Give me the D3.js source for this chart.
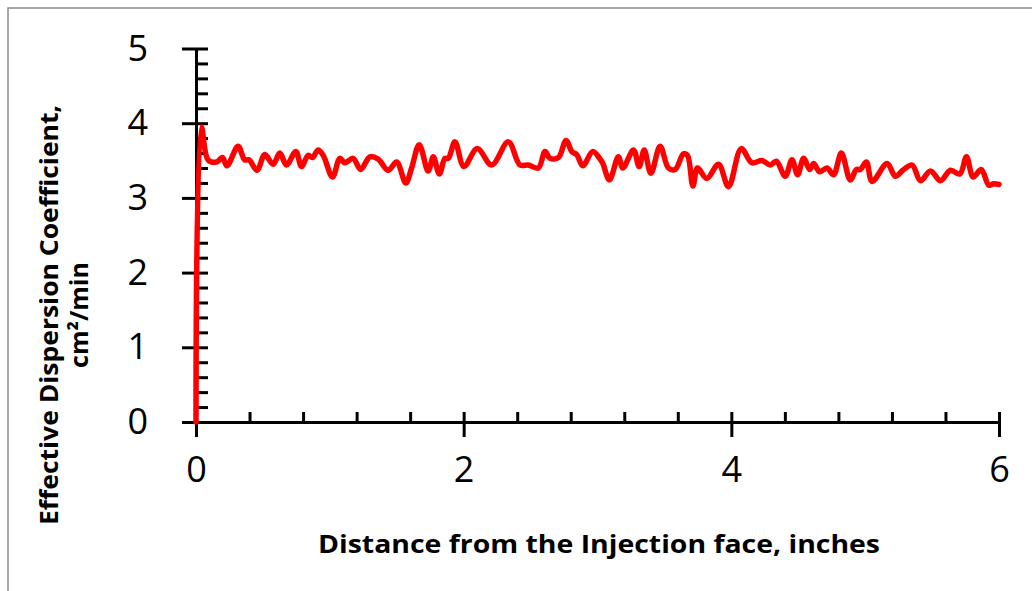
<!DOCTYPE html>
<html>
<head>
<meta charset="utf-8">
<script src="https://cdn.jsdelivr.net/npm/d3@7"></script>
<style>
  html, body { margin: 0; padding: 0; background: #fff; }
  svg { display: block; font-family: "Open Sans", "Noto Sans", sans-serif; }
  .axis path, .axis line { stroke: #000; stroke-width: 3; }
  .axis text { fill: #000; font-size: 36px; }
</style>
</head>
<body>
<svg id="chart" width="1032" height="591"></svg>
<script>
// distance from injection face (inches) / effective dispersion coefficient (cm²/min)
const distance = [0, 0.040, 0.090, 0.153, 0.197, 0.232, 0.314, 0.364, 0.396, 0.456, 0.514, 0.576, 0.626, 0.676, 0.746, 0.788,
  0.838, 0.871, 0.912, 0.950, 1.020, 1.075, 1.112, 1.174, 1.230, 1.299, 1.361, 1.436, 1.499, 1.568, 1.611, 1.668,
  1.735, 1.773, 1.818, 1.860, 1.885, 1.935, 2.002, 2.102, 2.209, 2.334, 2.421, 2.483, 2.558, 2.608, 2.645, 2.708,
  2.765, 2.808, 2.845, 2.890, 2.965, 3.019, 3.040, 3.089, 3.156, 3.189, 3.269, 3.311, 3.349, 3.399, 3.468, 3.530,
  3.580, 3.642, 3.672, 3.713, 3.747, 3.817, 3.904, 3.979, 4.074, 4.154, 4.229, 4.291, 4.336, 4.403, 4.453, 4.495,
  4.540, 4.585, 4.615, 4.660, 4.715, 4.764, 4.822, 4.889, 4.934, 4.964, 5.009, 5.052, 5.164, 5.226, 5.288, 5.351,
  5.413, 5.488, 5.563, 5.637, 5.707, 5.757, 5.807, 5.867, 5.924, 5.960, 6.000];
const dispersion = [0, 3.95, 3.51, 3.48, 3.54, 3.43, 3.69, 3.51, 3.51, 3.37, 3.58, 3.45, 3.60, 3.44, 3.62, 3.42,
  3.57, 3.54, 3.64, 3.57, 3.28, 3.53, 3.47, 3.53, 3.38, 3.55, 3.52, 3.37, 3.48, 3.20, 3.40, 3.71,
  3.36, 3.55, 3.32, 3.53, 3.53, 3.75, 3.42, 3.66, 3.44, 3.75, 3.44, 3.44, 3.40, 3.62, 3.53, 3.54,
  3.77, 3.62, 3.58, 3.43, 3.62, 3.52, 3.46, 3.24, 3.55, 3.40, 3.64, 3.42, 3.64, 3.33, 3.69, 3.40,
  3.38, 3.59, 3.57, 3.16, 3.40, 3.26, 3.45, 3.15, 3.66, 3.47, 3.50, 3.44, 3.49, 3.29, 3.51, 3.31,
  3.53, 3.38, 3.46, 3.35, 3.40, 3.31, 3.60, 3.24, 3.38, 3.38, 3.48, 3.22, 3.46, 3.29, 3.38, 3.44,
  3.23, 3.36, 3.23, 3.37, 3.32, 3.55, 3.28, 3.38, 3.17, 3.19, 3.18];

const xMajor = [0, 2, 4, 6];
const xMinor = [0, 0.4, 0.8, 1.2, 1.6, 2, 2.4, 2.8, 3.2, 3.6, 4, 4.4, 4.8, 5.2, 5.6, 6];
const yMajor = [0, 1, 2, 3, 4, 5];
const yMinor = [0, 0.2, 0.4, 0.6, 0.8, 1, 1.2, 1.4, 1.6, 1.8, 2, 2.2, 2.4, 2.6, 2.8, 3,
  3.2, 3.4, 3.6, 3.8, 4, 4.2, 4.4, 4.6, 4.8, 5];

const xTitle = 'Distance from the Injection face, inches';
const yTitle1 = 'Effective Dispersion Coefficient,';
const yTitle2 = 'cm²/min';

const svg = d3.select('#chart');
const L = 196, R = 999, T = 48.5, B = 422;

// chart area border (only top and left fall inside the picture)
svg.append('rect').attr('x', 8).attr('y', 8).attr('width', 1100).attr('height', 700)
  .attr('fill', 'none').attr('stroke', '#8c8c8c').attr('stroke-width', 1.5);

const x = d3.scaleLinear().domain([0, 6]).range([L, R]);
const y = d3.scaleLinear().domain([0, 5]).range([B, T]);

// y axis: majors stick out left, every tick inside
svg.append('g').attr('class', 'axis').attr('transform', `translate(${L},0)`)
  .call(d3.axisLeft(y).tickValues(yMajor).tickSize(14).tickPadding(34).tickSizeOuter(0).tickFormat(d3.format('d')));
svg.append('g').attr('class', 'axis').attr('transform', `translate(${L},0)`)
  .call(d3.axisRight(y).tickValues(yMinor).tickSize(12).tickSizeOuter(0).tickFormat(''));

// x axis
svg.append('g').attr('class', 'axis').attr('transform', `translate(0,${B})`)
  .call(d3.axisBottom(x).tickValues(xMajor).tickSize(15).tickPadding(19).tickSizeOuter(0).tickFormat(d3.format('d')));
svg.append('g').attr('class', 'axis').attr('transform', `translate(0,${B})`)
  .call(d3.axisTop(x).tickValues(xMinor).tickSize(10).tickSizeOuter(0).tickFormat(''));

svg.selectAll('.axis text').attr('font-family', '"Open Sans", sans-serif');

// series
const pts = distance.map((d, i) => [d, dispersion[i]]);
svg.append('path').datum(pts)
  .attr('fill', 'none').attr('stroke', '#ff0000').attr('stroke-width', 5.5)
  .attr('stroke-linejoin', 'round').attr('stroke-linecap', 'round')
  .attr('d', d3.line().x(d => x(d[0])).y(d => y(d[1])).curve(d3.curveCatmullRom.alpha(0.5)));

// titles
svg.append('text').attr('x', 599).attr('y', 553)
  .attr('text-anchor', 'middle').attr('font-weight', 'bold').attr('font-size', 25)
  .attr('textLength', 562).attr('lengthAdjust', 'spacingAndGlyphs')
  .text(xTitle);
const ytitle = svg.append('g').attr('transform', 'translate(0,315) rotate(-90)')
  .attr('font-weight', 'bold').attr('text-anchor', 'middle');
ytitle.append('text').attr('x', 0).attr('y', 58).attr('font-size', 25)
  .attr('textLength', 420).attr('lengthAdjust', 'spacingAndGlyphs').text(yTitle1);
ytitle.append('text').attr('x', 0).attr('y', 88).attr('font-size', 25).text(yTitle2);
</script>
</body>
</html>
